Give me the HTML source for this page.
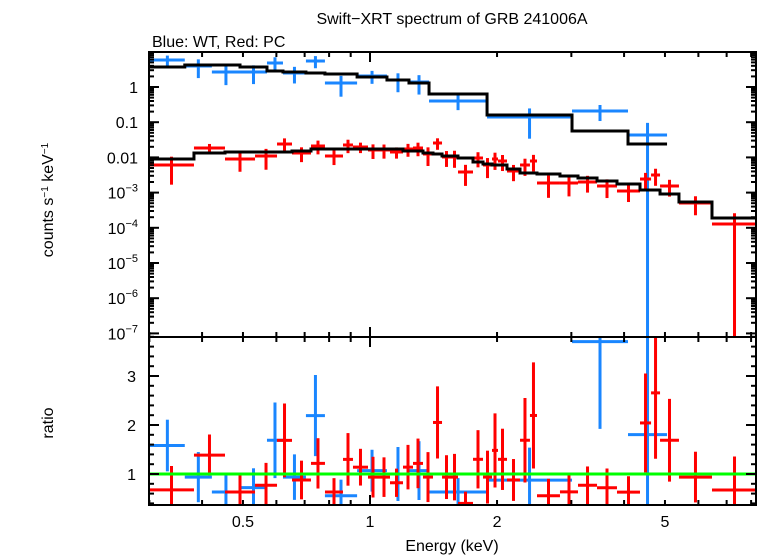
<!DOCTYPE html>
<html><head><meta charset="utf-8"><style>
html,body{margin:0;padding:0;background:#fff;}
svg{display:block;font-family:"Liberation Sans",sans-serif;}
</style></head><body>
<svg id="chart" width="758" height="556" viewBox="0 0 758 556" xmlns="http://www.w3.org/2000/svg">
<rect width="758" height="556" fill="#fff"/>
<text x="452" y="24" font-size="16" text-anchor="middle">Swift−XRT spectrum of GRB 241006A</text>
<text x="152" y="47" font-size="16">Blue: WT, Red: PC</text>
<text transform="translate(53,200) rotate(-90)" font-size="16" text-anchor="middle">counts s<tspan baseline-shift="super" font-size="10">−1</tspan> keV<tspan baseline-shift="super" font-size="10">−1</tspan></text>
<text transform="translate(53,423) rotate(-90)" font-size="16" text-anchor="middle">ratio</text>
<text x="452" y="551" font-size="16" text-anchor="middle">Energy (keV)</text>
<defs>
<clipPath id="cTop"><rect x="149" y="52" width="607" height="285"/></clipPath>
<clipPath id="cBot"><rect x="149" y="337" width="607" height="168"/></clipPath>
</defs>
<g id="gTop" clip-path="url(#cTop)"></g>
<g id="gBot" clip-path="url(#cBot)"></g>
<g id="gAxes"></g>
</svg>
<script>
// Blue (WT) data
const wtELo = [0.301,0.364,0.422,0.492,0.570,0.622,0.705,0.782,0.932,1.097,1.237,1.380,1.894,3.011,4.087];
const wtEHi = [0.364,0.422,0.492,0.570,0.622,0.705,0.782,0.932,1.097,1.237,1.380,1.894,3.011,4.087,5.057];
const wtFlux = [5.85,3.95,2.67,2.67,4.81,2.50,5.48,1.30,2.05,1.58,1.39,0.40,0.14,0.208,0.0433];
const wtErr = [1.95,2.16,1.54,1.46,2.2,1.24,2.07,0.77,0.82,0.87,0.78,0.18,0.106,0.10,0.052];
const wtModel = [3.70,4.22,4.22,3.70,2.85,2.67,2.50,2.34,1.92,1.58,1.30,0.633,0.160,0.0562,0.0240];
// Red (PC) data
const pcEdges = [0.2995,0.3827,0.4533,0.5340,0.6021,0.6534,0.7247,0.7822,0.8630,0.9113,0.9891,1.0446,1.1153,1.1972,1.2645,1.3354,1.4103,1.4814,1.5557,1.6163,1.7541,1.8527,1.9459,2.0106,2.1117,2.2672,2.3934,2.4874,2.8195,3.1109,3.4514,3.8484,4.3633,4.6345,4.8672,5.3970,6.4625,8.2628];
const pcFlux = [0.00608,0.01849,0.00901,0.01096,0.0240,0.01334,0.02109,0.01096,0.02250,0.01974,0.01622,0.01622,0.01423,0.01733,0.01849,0.01250,0.02565,0.01026,0.01026,0.00385,0.00962,0.00608,0.00901,0.00790,0.00411,0.00608,0.00790,0.00188,0.00188,0.00200,0.00154,0.00111,0.00243,0.00316,0.00154,0.000507,0.000128];
const pcErr = [0.0044,0.0056,0.0051,0.0065,0.0107,0.006,0.0089,0.0049,0.0093,0.0065,0.0072,0.007,0.005,0.0069,0.0077,0.0068,0.0092,0.0049,0.0052,0.0023,0.0044,0.0035,0.0046,0.0038,0.002,0.0031,0.0039,0.00117,0.0011,0.001,0.00084,0.00057,0.0012,0.0016,0.00077,0.00028,0.00013];
const pcModel = [0.00901,0.01334,0.01423,0.01423,0.01423,0.01520,0.01733,0.01733,0.01733,0.01733,0.01733,0.01733,0.01733,0.01520,0.01520,0.01334,0.01250,0.01096,0.01096,0.00962,0.00740,0.00649,0.00608,0.00608,0.00468,0.00360,0.00360,0.00338,0.00296,0.00260,0.00214,0.00176,0.00119,0.00119,0.000912,0.000541,0.000190];
// Tick labels
const topTickVals = [1,0.1,0.01,1e-3,1e-4,1e-5,1e-6,1e-7];
const topTickText = ["1","0.1","0.01","10|−3","10|−4","10|−5","10|−6","10|−7"];
const ratioTickVals = [1,2,3];
const xTickVals = [0.5,1,2,5];
const xTickText = ["0.5","1","2","5"];

const NS = "http://www.w3.org/2000/svg";
const L=149, R=756, T=52, MID=337, B=505;
const X = e => 370 + 422*Math.log10(e);
const Yt = v => 87 - 35.2*Math.log10(v);
const Yr = r => 474 - 49*(r-1);
const gTop=document.getElementById('gTop'), gBot=document.getElementById('gBot'), gAx=document.getElementById('gAxes');
function mk(tag, parent, attrs){const el=document.createElementNS(NS,tag);for(const k in attrs)el.setAttribute(k,attrs[k]);parent.appendChild(el);return el;}
function ln(p,x1,y1,x2,y2,c,w){return mk('line',p,{x1:x1,y1:y1,x2:x2,y2:y2,stroke:c,'stroke-width':w});}

function drawSet(eLo,eHi,flux,err,model,color,label){
  for(let i=0;i<flux.length;i++){
    const xa=X(eLo[i]), xb=X(eHi[i]), xc=X(Math.sqrt(eLo[i]*eHi[i]));
    const y=Yt(flux[i]); const lo=flux[i]-err[i];
    const yh=Yt(flux[i]+err[i]); const yl=lo>0?Yt(lo):B+50;
    const g=mk('g',gTop,{});
    
    
    ln(g,xa,y,xb,y,color,3); ln(g,xc,yh,xc,yl,color,3);
    const r=flux[i]/model[i], re=err[i]/model[i];
    const g2=mk('g',gBot,{});
    
    
    const ry=Yr(r);
    ln(g2,xa,ry,xb,ry,color,3); ln(g2,xc,Yr(r+re),xc,Yr(r-re),color,3);
  }
  let d='';
  for(let i=0;i<model.length;i++){
    const y=Yt(model[i]);
    d+=(i===0?'M':'L')+X(eLo[i])+','+y+'L'+X(eHi[i])+','+y;
  }
  const p=mk('path',gTop,{d:d,fill:'none',stroke:'#000','stroke-width':3});
  
  
}
const pcLo=pcEdges.slice(0,-1), pcHi=pcEdges.slice(1);
drawSet(wtELo,wtEHi,wtFlux,wtErr,wtModel,'#1a86ff','wt');
drawSet(pcLo,pcHi,pcFlux,pcErr,pcModel,'#ff0000','pc');
const gl=ln(gBot,L,Yr(1),R,Yr(1),'#00ff00',3);



// frame
const fr=mk('rect',gAx,{x:L,y:T,width:R-L,height:B-T,fill:'none',stroke:'#000','stroke-width':2});


ln(gAx,L,MID,R,MID,'#000',2);
// top y ticks
for(let dec=-7;dec<=1;dec++){
  for(let m=1;m<10;m++){
    const v=m*Math.pow(10,dec); const y=Yt(v);
    if(y<T||y>MID) continue;
    const len=m===1?10:5;
    ln(gAx,L,y,L+len,y,'#000',2); ln(gAx,R-len,y,R,y,'#000',2);
  }
}
topTickVals.forEach((v,i)=>{
  const parts=topTickText[i].split('|');
  const t=mk('text',gAx,{x:138,y:Yt(v)+6,'font-size':16,'text-anchor':'end'});
  
  
  t.textContent=parts[0];
  if(parts[1]){const s=mk('tspan',t,{'font-size':11,dy:-7});s.textContent=parts[1];}
});
// ratio ticks
for(let r=0.4;r<=3.81;r+=0.2){
  const y=Yr(r); const maj=Math.abs(r-Math.round(r))<0.01;
  const len=maj?10:5;
  ln(gAx,L,y,L+len,y,'#000',2); ln(gAx,R-len,y,R,y,'#000',2);
}
ratioTickVals.forEach(v=>{
  const t=mk('text',gAx,{x:136,y:Yr(v)+6,'font-size':16,'text-anchor':'end'});
  
  
  t.textContent=String(v);
});
// x ticks
[0.3,0.4,0.5,0.6,0.7,0.8,0.9,1,2,3,4,5,6,7,8].forEach(e=>{
  const x=X(e); if(x<L||x>R) return;
  const len=(e===1)?10:5;
  [T,MID].forEach(y=>ln(gAx,x,y,x,y+len,'#000',2));
  [MID,B].forEach(y=>ln(gAx,x,y-len,x,y,'#000',2));
});
xTickVals.forEach((e,i)=>{
  const t=mk('text',gAx,{x:X(e),y:527,'font-size':16,'text-anchor':'middle'});
  
  
  t.textContent=xTickText[i];
});
</script>
</body></html>
